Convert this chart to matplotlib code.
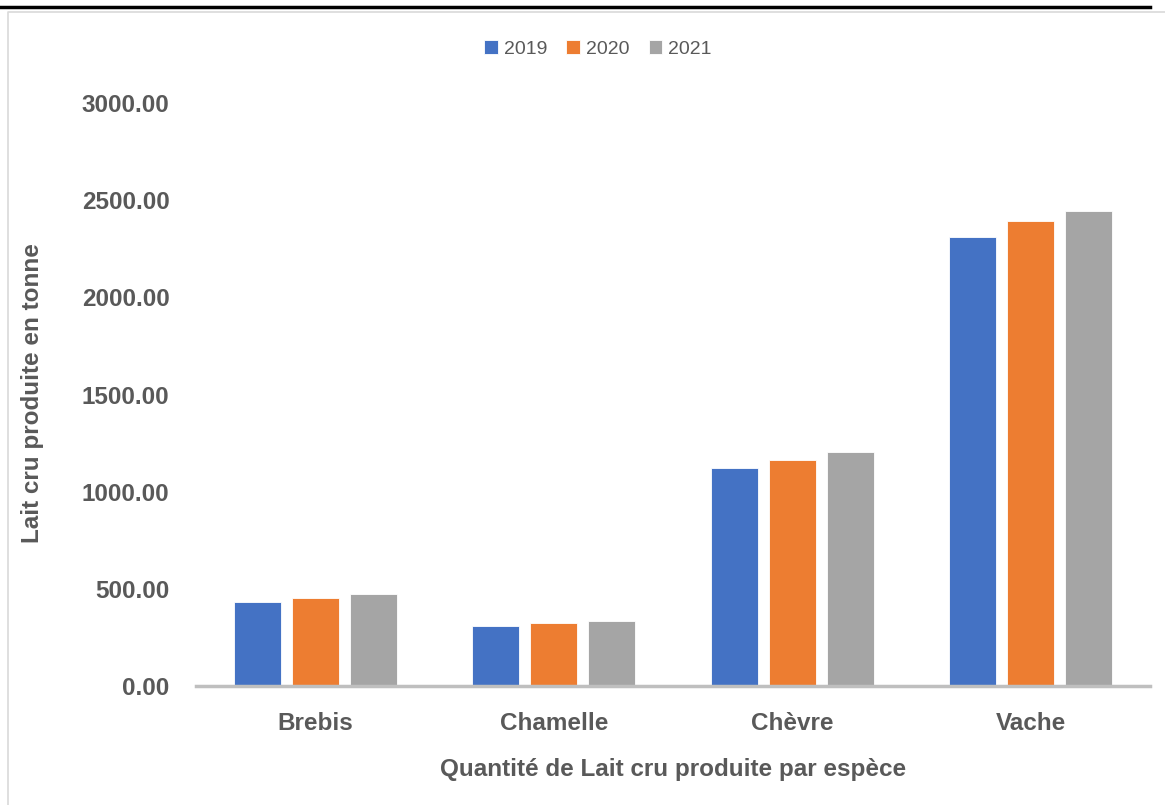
import numpy as np
import matplotlib.pyplot as plt
from matplotlib.lines import Line2D

# data
especes = ['Brebis', 'Chamelle', 'Chèvre', 'Vache']
annees = ['2019', '2020', '2021']
v2019 = [432, 309, 1122, 2311]
v2020 = [453, 324, 1163, 2393]
v2021 = [473, 335, 1204, 2445]
yticks = [0, 500, 1000, 1500, 2000, 2500, 3000]

couleurs = ['#4472C4', '#ED7D31', '#A5A5A5']
gris = '#595959'
police = ['Liberation Sans Narrow', 'Liberation Sans', 'DejaVu Sans']
taille = 17.5

plt.rcParams['font.family'] = police

fig = plt.figure(figsize=(11.65, 8.05), dpi=100)
ax = fig.add_axes([196 / 1165, 1 - 686 / 805, (1150 - 196) / 1165, (686 - 103) / 805])

x = np.arange(len(especes))
w = 0.197
pas = 0.243
for i, (vals, c) in enumerate(zip([v2019, v2020, v2021], couleurs)):
	ax.bar(x + (i - 1) * pas, vals, width=w, color=c, label=annees[i],
	       edgecolor='white', linewidth=0.6, zorder=2)

ax.set_xlim(-0.5, len(especes) - 0.5)
ax.set_ylim(0, 3000)
ax.set_yticks(yticks)
ax.set_yticklabels([f'{t:.2f}' for t in yticks], fontsize=taille, fontweight='bold', color=gris)
ax.set_xticks(x)
ax.set_xticklabels(especes, fontsize=taille, fontweight='bold', color=gris)
ax.tick_params(axis='both', length=0)
ax.tick_params(axis='y', pad=19)
ax.tick_params(axis='x', pad=19)

for s in ['top', 'right', 'left']:
	ax.spines[s].set_visible(False)
ax.spines['bottom'].set_color('#BFBFBF')
ax.spines['bottom'].set_linewidth(2.5)

ax.set_xlabel('Quantité de Lait cru produite par espèce', fontsize=taille, fontweight='bold',
              color=gris, labelpad=16)
fig.text(33 / 1165, 1 - 393 / 805, 'Lait cru produite en tonne', rotation=90, fontsize=taille,
         fontweight='bold', color=gris, ha='center', va='center')

ax.legend(loc='center', bbox_to_anchor=(598 / 1165, 1 - 49 / 805),
          bbox_transform=fig.transFigure, ncol=3, frameon=False,
          handlelength=0.7, handleheight=0.7, handletextpad=0.3, columnspacing=1.0,
          labelcolor=gris, prop={'family': police, 'size': 14})

# cadre et ligne du haut
fig.add_artist(Line2D([0, 1150 / 1165], [1 - 7 / 805, 1 - 7 / 805], color='black', lw=2.5,
                      transform=fig.transFigure))
fig.add_artist(Line2D([8 / 1165, 8 / 1165, 1], [0, 1 - 12 / 805, 1 - 12 / 805], color='#D9D9D9',
                      lw=1.2, transform=fig.transFigure))

fig.savefig('out.png', dpi=100)
